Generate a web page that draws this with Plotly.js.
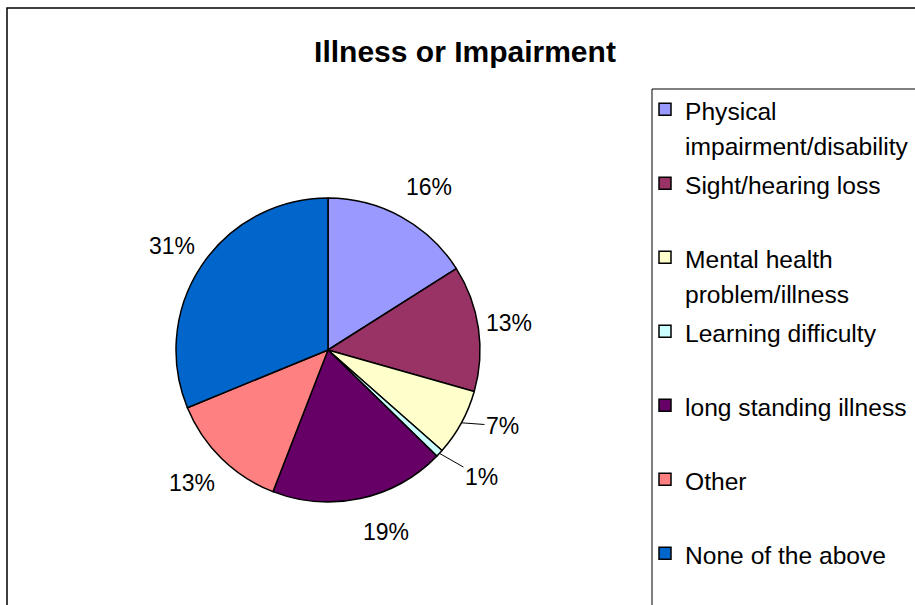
<!DOCTYPE html>
<html>
<head>
<meta charset="utf-8">
<script src="https://cdn.plot.ly/plotly-3.0.1.min.js"></script>
<style>html,body{margin:0;padding:0;background:#fff;}#chart{width:915px;height:605px;}</style>
</head>
<body>
<div id="chart"></div>
<script>
// ---- data ----
const categories = [
  ["Physical", "impairment/disability"],
  ["Sight/hearing loss"],
  ["Mental health", "problem/illness"],
  ["Learning difficulty"],
  ["long standing illness"],
  ["Other"],
  ["None of the above"]
];
const values = [16.0, 13.4, 7.1, 0.8, 18.6, 12.9, 31.2];
const colors = ["#9999FF", "#993366", "#FFFFCC", "#CCFFFF", "#660066", "#FF8080", "#0066CC"];

// ---- geometry (pixels) ----
const W = 915, H = 605;
const cx = 328, cy = 350, R = 152;
const labelRx = 158, labelRy = 186;
const leader = { 2: [41, 3], 3: [42, 24] }; // text offsets for small-slice leader labels
const px = x => x / W, py = y => 1 - y / H;
const FONT = "Liberation Sans, Arial, sans-serif";

// legend labels: every entry takes two lines so entries are evenly spaced
const legendLabels = categories.map(lines => {
  const l = lines.length > 1 ? lines : [lines[0], " "];
  return l.map(t => '<span style="font-size:24.6px">' + t + '</span>').join("<br>");
});

const total = values.reduce((a, b) => a + b, 0);
const annotations = [];
let cum = 0;
values.forEach((v, i) => {
  const mid = (cum + v / 2) / total * 2 * Math.PI;
  cum += v;
  const s = Math.sin(mid), c = Math.cos(mid);
  const pct = Math.round(v / total * 100) + "%";
  const f = { family: FONT, size: 23, color: "#000" };
  if (leader[i]) {
    annotations.push({
      x: px(cx + R * s), y: py(cy - R * c), xref: "paper", yref: "paper",
      text: pct, showarrow: true, arrowhead: 0, arrowwidth: 1, arrowcolor: "#000",
      ax: leader[i][0], ay: leader[i][1], standoff: 0, startstandoff: 0, font: f
    });
  } else {
    annotations.push({
      x: px(cx + labelRx * s), y: py(cy - labelRy * c), xref: "paper", yref: "paper",
      xanchor: s >= 0 ? "left" : "right", yanchor: "middle", text: pct, showarrow: false, font: f
    });
  }
});

const trace = {
  type: "pie",
  labels: legendLabels,
  values: values,
  sort: false,
  direction: "clockwise",
  rotation: 0,
  textinfo: "none",
  hoverinfo: "label+percent",
  marker: { colors: colors, line: { color: "#000", width: 1.5 } },
  domain: { x: [px(cx - R), px(cx + R)], y: [py(cy + R), py(cy - R)] }
};

const layout = {
  width: W, height: H,
  margin: { l: 0, r: 0, t: 0, b: 0, autoexpand: false },
  paper_bgcolor: "#fff",
  font: { family: FONT, color: "#000" },
  title: {
    text: "<b>Illness or Impairment</b>",
    x: px(465), xanchor: "center", y: py(51), yanchor: "middle",
    font: { family: FONT, size: 30, color: "#000" }
  },
  showlegend: true,
  legend: {
    x: px(645), y: py(85), xanchor: "left", yanchor: "top",
    valign: "top", bgcolor: "rgba(0,0,0,0)", borderwidth: 0,
    font: { family: FONT, size: 27.3, color: "#000" }
  },
  annotations: annotations,
  shapes: [
    { type: "rect", xref: "paper", yref: "paper", x0: px(7), y0: py(8), x1: 1.05, y1: -0.05,
      line: { color: "#000", width: 1.5 }, fillcolor: "rgba(0,0,0,0)", layer: "below" },
    { type: "rect", xref: "paper", yref: "paper", x0: px(652), y0: py(89), x1: 1.05, y1: -0.05,
      line: { color: "#000", width: 1 }, fillcolor: "rgba(0,0,0,0)", layer: "below" }
  ]
};

Plotly.newPlot("chart", [trace], layout, { displayModeBar: false, staticPlot: true });
</script>
</body>
</html>
